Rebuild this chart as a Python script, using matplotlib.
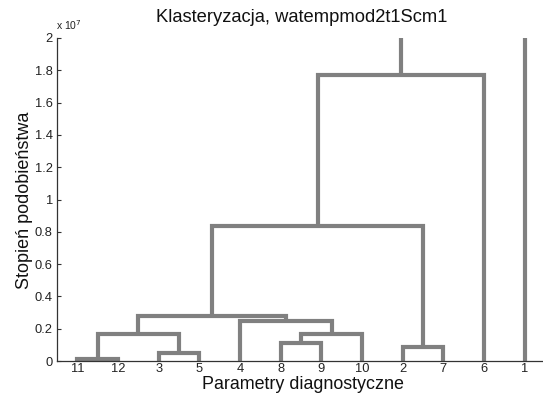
import matplotlib.pyplot as plt
from matplotlib.ticker import FuncFormatter

plt.rcParams['font.family'] = ['Liberation Sans', 'DejaVu Sans']

# === 1. Data: leaf order and merges (heights in units of 1e7) ===
leaf_labels = ["11", "12", "3", "5", "4", "8", "9", "10", "2", "7", "6", "1"]
# each merge: (left id, right id, height); new cluster id = 12 + row index
merge_left = [0, 2, 5, 8, 12, 14, 4, 16, 19, 20, 21]
merge_right = [1, 3, 6, 9, 13, 7, 17, 18, 15, 10, 11]
merge_height = [0.010, 0.051, 0.113, 0.089, 0.167, 0.167, 0.248, 0.280, 0.836, 1.773, 2.5]

# === 2. Figure ===
fig = plt.figure(figsize=(5.43, 3.94), dpi=100)
ax = fig.add_axes([57 / 543, 33 / 394, 488 / 543, 323 / 394])

line_color = "#808080"
pos = {i: i + 1 for i in range(len(leaf_labels))}
hgt = {i: 0.0 for i in range(len(leaf_labels))}

for k, (a, b, h) in enumerate(zip(merge_left, merge_right, merge_height)):
    xa, xb = pos[a], pos[b]
    ax.plot([xa, xa, xb, xb], [hgt[a], h, h, hgt[b]],
            color=line_color, linewidth=3, solid_capstyle="butt",
            solid_joinstyle="miter", zorder=2)
    new_id = len(leaf_labels) + k
    pos[new_id] = (xa + xb) / 2
    hgt[new_id] = h

# === 3. Axes formatting ===
ax.set_xlim(0.5, len(leaf_labels) + 0.5)
ax.set_ylim(0, 2)
ax.set_xticks(range(1, len(leaf_labels) + 1))
ax.set_xticklabels(leaf_labels)
ax.set_yticks([i * 0.2 for i in range(11)])
ax.yaxis.set_major_formatter(FuncFormatter(lambda v, p: "%g" % round(v, 1)))

for s in ["top", "right"]:
    ax.spines[s].set_visible(False)
for s in ["left", "bottom"]:
    ax.spines[s].set_color("#333333")
    ax.spines[s].set_linewidth(0.9)
ax.tick_params(direction="in", length=3, width=0.8, colors="#333333",
               labelsize=9.3, labelcolor="#222222", pad=3)
ax.tick_params(axis="x", pad=1.5)

fig.text(0.556, 0.955, "Klasteryzacja, watempmod2t1Scm1", ha="center", va="center",
         fontsize=13.2, color="#111111")
fig.text(0.558, 0.002, "Parametry diagnostyczne", ha="center", va="bottom",
         fontsize=12.9, color="#111111")
fig.text(0.045, 0.492, "Stopień podobieństwa", ha="center", va="center",
         rotation=90, fontsize=13, color="#111111")
fig.text(56 / 543, 0.918, r"x 10$^{7}$", ha="left", va="bottom", fontsize=7.5,
         color="#222222")

# === 4. Save ===
fig.savefig("out.png", dpi=100)
